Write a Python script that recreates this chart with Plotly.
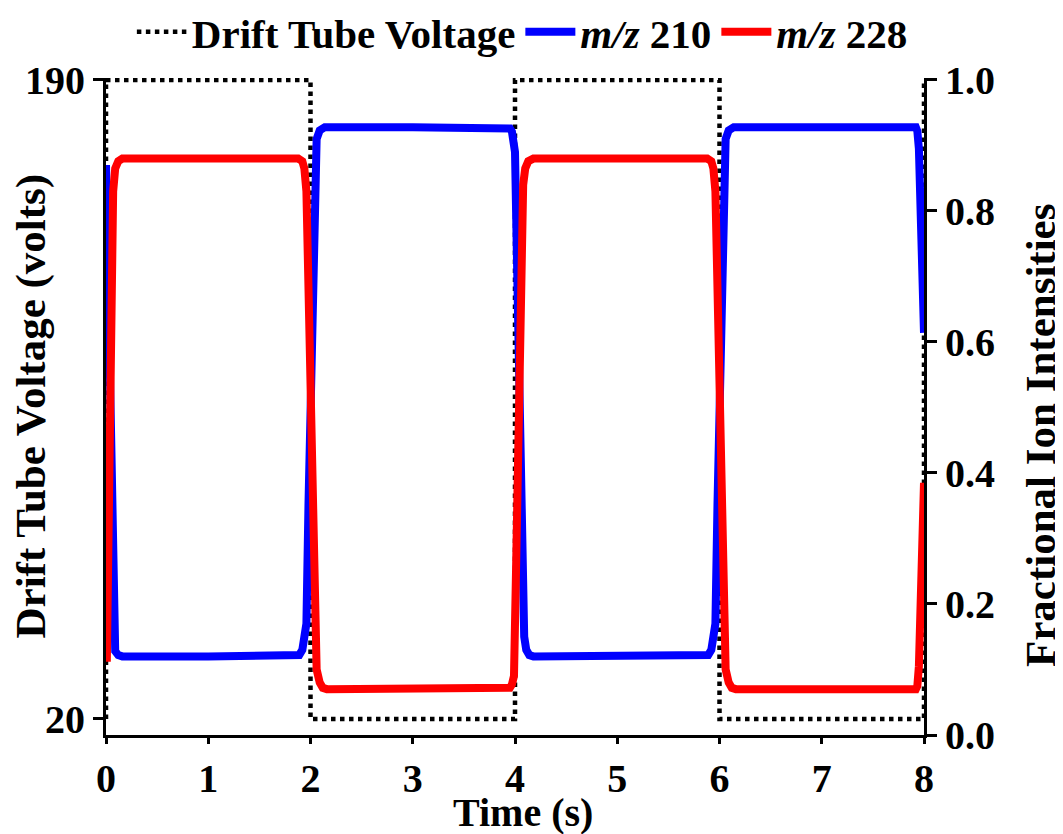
import plotly.graph_objects as go

# ---- data ----
t_volt = [0, 0, 2, 2, 4, 4, 6, 6, 8, 8]
volt = [20, 190, 190, 20, 20, 190, 190, 20, 20, 190]

t_210 = [0.00, 0.02, 0.04, 0.06, 0.07, 0.09, 0.12, 0.16, 1.00,
         1.85, 1.89, 1.92, 1.95, 1.96, 1.98, 2.00, 2.02, 2.04, 2.06, 2.09, 2.14, 3.00,
         3.92, 3.95, 3.97, 3.99, 4.00, 4.02, 4.04, 4.06, 4.08, 4.09, 4.11, 4.14, 4.18, 5.00,
         5.85, 5.89, 5.92, 5.95, 5.96, 5.98, 6.00, 6.02, 6.04, 6.06, 6.09, 6.14, 7.00,
         7.90, 7.92, 7.935, 7.95, 8.00]
i_210 = [0.870, 0.660, 0.450, 0.240, 0.150, 0.128, 0.122, 0.120, 0.120,
         0.120, 0.122, 0.130, 0.150, 0.170, 0.350, 0.530, 0.710, 0.880, 0.910, 0.923, 0.928, 0.928,
         0.928, 0.926, 0.921, 0.907, 0.890, 0.720, 0.540, 0.360, 0.190, 0.150, 0.130, 0.122, 0.120, 0.120,
         0.120, 0.122, 0.130, 0.150, 0.170, 0.350, 0.530, 0.710, 0.880, 0.910, 0.923, 0.928, 0.928,
         0.928, 0.928, 0.922, 0.895, 0.614]

t_228 = [0.000, 0.008, 0.02, 0.04, 0.06, 0.07, 0.09, 0.12, 0.16, 1.00,
         1.88, 1.92, 1.94, 1.96, 1.98, 2.00, 2.02, 2.04, 2.06, 2.09, 2.12, 2.16, 3.00,
         3.92, 3.95, 3.97, 3.99, 4.01, 4.03, 4.05, 4.07, 4.08, 4.10, 4.13, 4.18, 5.00,
         5.88, 5.92, 5.94, 5.96, 5.98, 6.00, 6.02, 6.04, 6.06, 6.09, 6.12, 6.16, 7.00,
         7.90, 7.92, 7.935, 7.95, 8.00]
i_228 = [0.147, 0.112, 0.250, 0.500, 0.740, 0.830, 0.865, 0.876, 0.880, 0.880,
         0.880, 0.876, 0.865, 0.830, 0.660, 0.480, 0.310, 0.160, 0.100, 0.080, 0.072, 0.070, 0.070,
         0.070, 0.072, 0.077, 0.090, 0.250, 0.430, 0.610, 0.780, 0.840, 0.865, 0.876, 0.880, 0.880,
         0.880, 0.876, 0.865, 0.830, 0.660, 0.480, 0.310, 0.160, 0.100, 0.080, 0.072, 0.070, 0.070,
         0.070, 0.070, 0.075, 0.105, 0.385]

x_ticks = [0, 1, 2, 3, 4, 5, 6, 7, 8]
left_ticks = [20, 190]
right_ticks = [0.0, 0.2, 0.4, 0.6, 0.8, 1.0]

x_title = "Time (s)"
left_title = "Drift Tube Voltage (volts)"
right_title = "Fractional Ion Intensities"

FONT = "Liberation Serif"

fig = go.Figure()
fig.add_trace(go.Scatter(x=t_volt, y=volt, mode="lines", name="Drift Tube Voltage",
                         line=dict(color="black", width=4.5, dash="dot"), yaxis="y"))
fig.add_trace(go.Scatter(x=t_210, y=i_210, mode="lines", name="<i>m/z</i> 210",
                         line=dict(color="#0000FF", width=8), yaxis="y2"))
fig.add_trace(go.Scatter(x=t_228, y=i_228, mode="lines", name="<i>m/z</i> 228",
                         line=dict(color="#FF0000", width=8), yaxis="y2"))

tickfont = dict(family=FONT, size=40, color="black", weight="bold")
xtitlefont = dict(family=FONT, size=40, color="black", weight="bold")
ytitlefont = dict(family=FONT, size=43, color="black", weight="bold")

axis_common = dict(showgrid=False, zeroline=False, showline=True, linecolor="black",
                   linewidth=3, ticks="outside", tickwidth=3, tickcolor="black",
                   tickfont=tickfont)

fig.update_layout(
    width=1055, height=826,
    paper_bgcolor="white", plot_bgcolor="white",
    margin=dict(l=98, r=139, t=70, b=99, autoexpand=False),
    showlegend=True,
    legend=dict(orientation="h", x=0.509, xanchor="center", y=1.070, yanchor="middle",
                font=dict(family=FONT, size=41, color="black", weight="bold"),
                itemwidth=50, bgcolor="rgba(0,0,0,0)"),
    xaxis=dict(range=[0, 8], tickvals=x_ticks, ticklen=6, **axis_common),
    yaxis=dict(range=[15.74, 190.53], tickvals=left_ticks, ticklen=10, **axis_common),
    yaxis2=dict(range=[0, 1.003], tickvals=right_ticks, tickformat=".1f", overlaying="y",
                side="right", ticklen=10, **axis_common),
    annotations=[
        dict(text=x_title, xref="paper", yref="paper", x=0.5098, y=-0.1180,
             xanchor="center", yanchor="middle", showarrow=False, font=xtitlefont),
        dict(text=left_title, xref="paper", yref="paper", x=-0.0917, y=0.5015,
             xanchor="center", yanchor="middle", textangle=-90, showarrow=False, font=ytitlefont),
        dict(text=right_title, xref="paper", yref="paper", x=1.1418, y=0.4566,
             xanchor="center", yanchor="middle", textangle=-90, showarrow=False, font=ytitlefont),
    ],
)

fig.write_html("out.html")
